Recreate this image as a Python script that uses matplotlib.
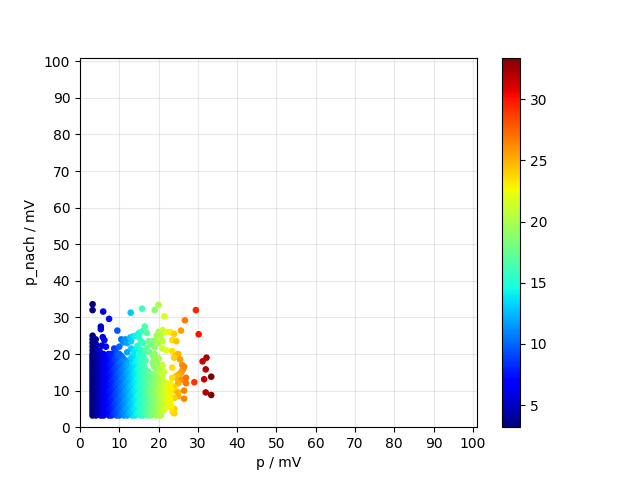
import numpy as np
import matplotlib
matplotlib.use("Agg")
import matplotlib.pyplot as plt

#Dense part of the cloud, read row by row (p_nach value : p values)
row_32 = [3.2,4.1,5.3,6.0,7.4,8.0,9.3,10.0,11.2,12.0,13.3,14.0,15.4,16.0,17.2,18.0,19.3,20.0,20.6]
row_38 = [3.2,4.6,5.7,6.6,7.7,8.6,9.7,10.6,11.6,12.6,13.7,14.6,15.7,16.6,17.7,18.6,19.7,24.0]
row_44 = [3.2,4.0,5.0,6.3,7.0,8.3,9.0,10.3,11.0,12.3,13.0,14.3,15.0,16.3,17.0,18.3,19.0,20.3,21.0,23.6]
row_50 = [3.2,4.5,5.6,6.7,7.6,8.7,9.6,10.7,11.6,12.7,13.6,14.7,15.6,16.7,17.6,18.7,19.6,20.7,21.6]
row_56 = [3.2,4.1,5.3,6.0,7.3,8.0,9.3,10.0,11.3,12.0,13.3,14.0,15.3,16.0,17.3,18.0,19.3,20.0,21.3,22.1,23.2]
row_62 = [3.2,4.6,5.7,6.6,7.7,8.6,9.7,10.6,11.7,12.6,13.7,14.6,15.7,16.6,17.7,18.6,19.7,20.6,21.7,23.0]
row_68 = [3.2,4.0,5.0,6.3,7.0,8.3,9.0,10.3,11.0,12.3,13.0,14.3,15.0,16.3,17.0,18.3,19.0,20.3,21.0,22.3,22.8]
row_74 = [3.2,4.5,5.6,6.7,7.6,8.7,9.6,10.7,11.6,12.7,13.6,14.7,15.6,16.7,17.6,18.7,19.6,20.7,21.6,22.6]
row_80 = [3.2,4.1,5.3,6.0,7.3,8.0,9.3,10.0,11.3,12.0,13.3,14.0,15.3,16.0,17.3,18.0,19.3,20.0,21.3,22.0,23.0]
row_86 = [3.2,4.6,5.7,6.6,7.7,8.6,9.7,10.6,11.7,12.6,13.7,14.6,15.7,16.6,17.7,18.6,19.7,20.6,21.7,22.6]
row_92 = [3.2,4.0,5.0,6.3,7.0,8.3,9.0,10.3,11.0,12.3,13.0,14.3,15.0,16.3,17.0,18.3,19.0,20.3,21.0,22.3,23.0]
row_98 = [3.2,4.5,5.6,6.7,7.6,8.7,9.6,10.7,11.6,12.7,13.6,14.7,15.6,16.7,17.6,18.7,19.6,20.7,21.6,22.6]
row_104 = [3.2,4.1,5.3,6.0,7.3,8.0,9.3,10.0,11.3,12.0,13.3,14.0,15.3,16.0,17.3,18.0,19.3,20.0,21.3,22.0,23.2]
row_110 = [3.2,4.6,5.7,6.6,7.7,8.6,9.7,10.6,11.7,12.6,13.7,14.6,15.7,16.6,17.7,18.6,19.7,20.6,21.7,22.7]
row_116 = [3.2,4.0,5.0,6.3,7.0,8.3,9.0,10.3,11.0,12.3,13.0,14.3,15.0,16.3,17.0,18.3,19.0,20.3,21.0,22.3,23.0]
row_122 = [3.2,4.5,5.6,6.7,7.6,8.7,9.6,10.7,11.6,12.7,13.6,14.7,15.6,16.7,17.6,18.7,19.6,20.7,21.7]
row_128 = [3.2,4.1,5.3,6.0,7.3,8.0,9.3,10.0,11.3,12.0,13.3,14.0,15.3,16.0,17.3,18.0,19.3,20.0,21.0]
row_134 = [3.2,4.6,5.7,6.6,7.7,8.6,9.7,10.6,11.7,12.6,13.7,14.6,15.7,16.6,17.7,18.6,19.7]
row_140 = [3.2,4.0,5.0,6.3,7.0,8.3,9.0,10.3,11.0,12.3,13.0,14.3,15.0,16.3,17.0,18.3,19.2,21.0]
row_146 = [3.2,4.5,5.6,6.7,7.6,8.7,9.6,10.7,11.6,12.7,13.6,14.7,15.6,16.7,17.6,18.7,20.5]
row_152 = [3.2,4.1,5.3,6.0,7.3,8.0,9.3,10.0,11.3,12.0,13.3,14.0,15.3,16.0,17.3,20.8,21.4]
row_158 = [3.2,4.6,5.7,6.6,7.7,8.6,9.7,10.6,11.7,12.6,13.7,14.6,15.7,16.6,19.6,20.6]
row_164 = [3.2,4.0,5.0,6.3,7.0,8.3,9.0,10.3,11.0,12.3,13.0,14.3,15.0,16.3,19.0,20.3]
row_170 = [3.2,4.5,5.6,6.7,7.6,8.7,9.6,10.7,11.6,12.7,13.6,14.7,15.6,18.7,19.7,21.0]
row_176 = [3.2,4.1,5.3,6.0,7.3,8.0,9.3,10.0,11.3,12.0,13.3,14.0,15.3,16.2,18.5,19.5]
row_182 = [3.2,4.6,5.7,6.6,7.7,8.6,9.7,10.6,11.7,14.6,15.6,16.7,18.9]
row_188 = [3.2,4.0,5.0,6.3,7.0,8.3,9.0,10.3,11.0,13.0,14.3,15.2,16.3,19.0,20.0]
row_194 = [3.2,4.5,5.6,6.7,7.6,8.7,9.6,10.6,13.4,14.7,15.8]
row_200 = [3.2,4.1,5.1,6.0,7.3,8.0,9.3,10.0,13.8,15.0,19.0]

row_y = [3.2,3.8,4.4,5.0,5.6,6.2,6.8,7.4,8.0,8.6,9.2,9.8,10.4,11.0,11.6,12.2,12.8,13.4,
         14.0,14.6,15.2,15.8,16.4,17.0,17.6,18.2,18.8,19.4,20.0]
rows = [row_32,row_38,row_44,row_50,row_56,row_62,row_68,row_74,row_80,row_86,row_92,row_98,
        row_104,row_110,row_116,row_122,row_128,row_134,row_140,row_146,row_152,row_158,
        row_164,row_170,row_176,row_182,row_188,row_194,row_200]

#Loose points around the edge of the cloud
edge_p = [3.2,3.2,3.2,3.2,3.2,4.0,4.2,4.5,5.0,5.8,6.2,5.6,6.6,8.7,9.0,10.0,10.5,11.0,11.5,12.0,
          12.8,13.0,13.5,13.0,12.0,14.0,15.0,15.8,16.5,17.0,15.5,16.0,17.5,18.5,19.5,20.0,20.5,
          21.0,22.0,20.0,21.0,21.0,22.0,23.0,24.0,23.5,24.5,23.5,24.2,25.0,24.0,25.5,26.0,23.5,
          26.5,26.2,25.8,25.2,24.5,23.5,25.0,26.0,27.0,27.0,25.0,23.0,24.0,24.0,25.0,25.0,26.5,
          26.5,24.0,23.0,23.0,24.0,23.7,23.2,14.6,15.4,16.2,17.0,18.0,19.0,19.6,20.2,17.6,
          18.6,14.2,15.0]
edge_y = [25.0,24.0,23.0,22.0,21.0,24.0,22.5,21.0,20.8,24.6,23.8,22.3,22.0,21.5,20.8,22.0,24.0,
          23.2,24.0,23.0,24.5,23.5,24.8,21.5,20.5,21.0,25.8,26.2,27.5,25.8,23.5,23.0,23.5,23.5,
          25.0,26.0,25.0,26.5,26.0,23.0,23.5,21.5,21.0,26.0,25.5,23.8,23.5,20.8,19.5,20.0,19.0,
          18.5,17.0,16.3,16.5,15.8,15.0,14.5,14.0,13.5,13.0,13.0,13.5,12.0,12.0,12.0,11.0,10.0,
          8.5,9.5,10.0,7.8,8.0,7.0,6.0,5.0,4.0,5.5,22.2,21.2,20.4,21.6,22.6,21.8,24.0,24.2,
          20.6,19.4,25.0,24.6]

#Outliers
far_p = [3.2,3.2,5.9,7.4,5.3,5.3,9.5,12.9,15.8,19.0,20.0,21.5,29.5,26.7,30.2,25.7,
         32.2,31.2,32.0,33.4,31.6,29.1,32.0,33.4]
far_y = [33.6,32.0,31.6,29.6,27.5,26.8,26.4,31.3,32.4,32.0,33.4,30.3,32.0,29.2,25.4,26.4,
         19.0,18.0,15.8,13.8,13.1,12.3,9.5,8.8]

p = list(edge_p) + list(far_p)
p_nach = list(edge_y) + list(far_y)
for y, xs in zip(row_y, rows):
    p += xs
    p_nach += [y]*len(xs)
p = np.array(p)
p_nach = np.array(p_nach)

fig, ax = plt.subplots()
sc = ax.scatter(p, p_nach, c=p, cmap="jet", s=14, zorder=2)
ax.set_xlim(0,101)
ax.set_ylim(0,101)
ax.set_xticks(np.arange(0,101,10))
ax.set_yticks(np.arange(0,101,10))
ax.grid(True, alpha=0.3, zorder=0)
ax.set_xlabel("p / mV")
ax.set_ylabel("p_nach / mV")
fig.colorbar(sc)

plt.savefig("out.png", dpi=100)
